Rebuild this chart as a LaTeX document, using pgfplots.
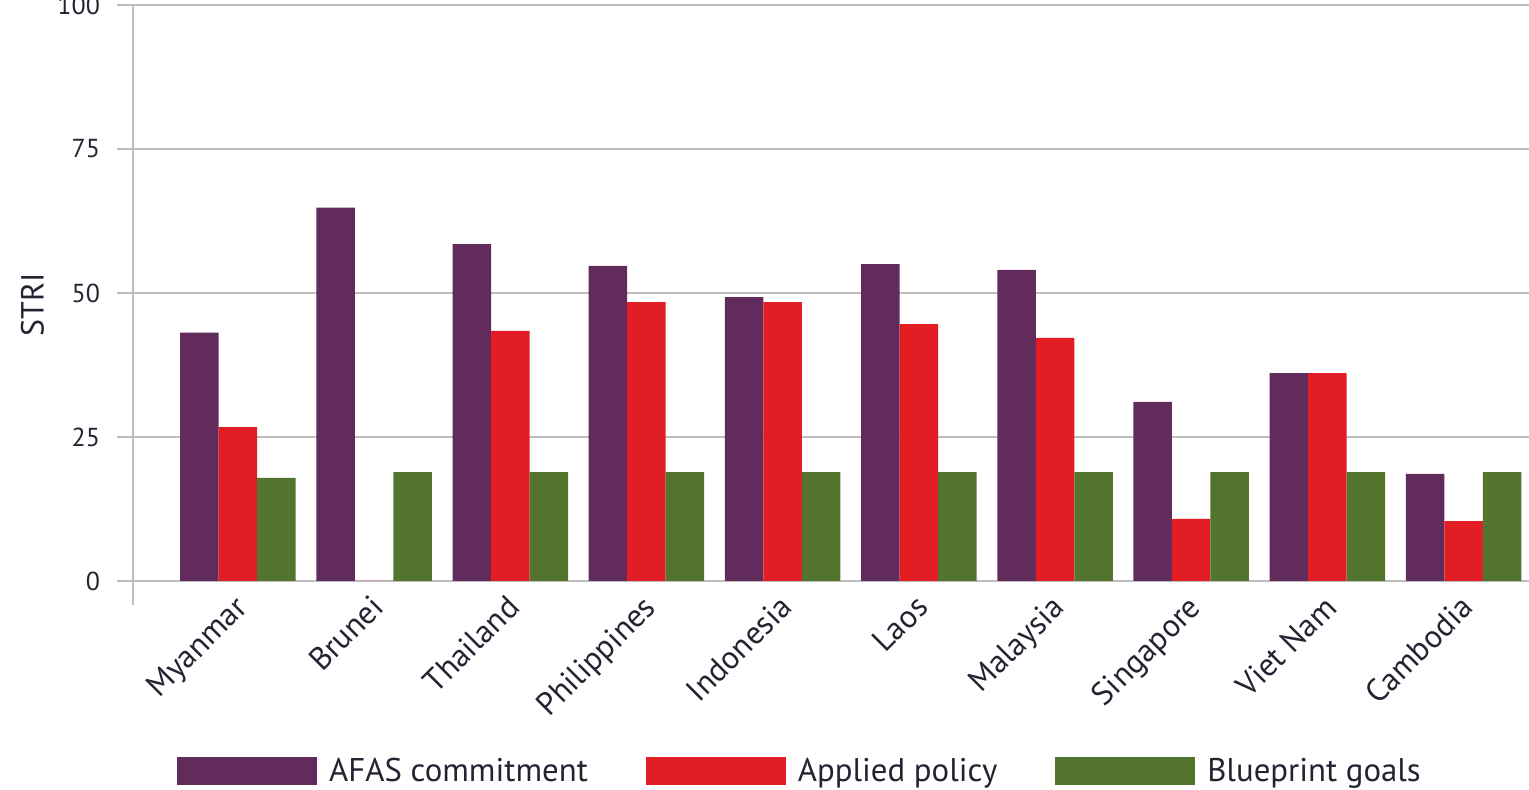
\documentclass[border=0pt]{standalone}
\usepackage{pgfplots}
\pgfplotsset{compat=1.18}
\usepackage{fontspec}
\setmainfont{PT Sans}
\definecolor{afas}{RGB}{97,44,92}
\definecolor{applied}{RGB}{226,30,36}
\definecolor{bpgreen}{RGB}{83,116,45}
\definecolor{gridgray}{RGB}{190,190,190}
\definecolor{txt}{RGB}{35,35,50}
\begin{document}
\begin{tikzpicture}
\begin{axis}[
  name=ax,
  scale only axis,
  width=698pt, height=300pt,
  xmin=-0.77, xmax=9.48,
  ymin=-4.17, ymax=100,
  ybar=0pt, bar width=19.25pt,
  xtick={0,...,9},
  xticklabels={Myanmar,Brunei,Thailand,Philippines,Indonesia,Laos,Malaysia,Singapore,Viet Nam,Cambodia},
  ytick={0,25,50,75,100},
  ymajorgrids,
  grid style={gridgray, line width=1pt},
  axis lines*=left,
  x axis line style={draw=none},
  y axis line style={gridgray, line width=1pt, -},
  tick align=outside,
  major tick length=8pt,
  xtick style={draw=none},
  ytick style={gridgray, line width=1pt},
  /pgf/number format/assume math mode=true,
  yticklabel style={font=\fontsize{13}{14}\selectfont, text=txt, xshift=-5pt},
  xticklabel style={font=\fontsize{16}{18}\selectfont, text=txt, xshift=-2.5pt, yshift=14pt, rotate=45, anchor=north east, inner sep=0pt},
  ylabel={STRI},
  ylabel style={font=\fontsize{16}{18}\selectfont, text=txt, at={(axis description cs:-0.072,0.5)}, anchor=center},
  legend style={at={(0.4785,-0.277)}, anchor=center, draw=none, fill=none,
    legend columns=3, font=\fontsize{16.4}{18}\selectfont, text=txt,
    /tikz/every even column/.append style={column sep=27pt},
    /tikz/every odd column/.append style={column sep=4pt}},
  legend image code/.code={\fill[#1] (0pt,-7pt) rectangle (70pt,7pt);},
]
\addplot[fill=afas, draw=none] coordinates {(0,43.1) (1,64.8) (2,58.5) (3,54.7) (4,49.3) (5,55.0) (6,54.0) (7,31.1) (8,36.1) (9,18.6)};
\addplot[fill=applied, draw=none] coordinates {(0,26.7) (1,0) (2,43.4) (3,48.4) (4,48.4) (5,44.6) (6,42.2) (7,10.8) (8,36.1) (9,10.4)};
\addplot[fill=bpgreen, draw=none] coordinates {(0,17.9) (1,18.9) (2,18.9) (3,18.9) (4,18.9) (5,18.9) (6,18.9) (7,18.9) (8,18.9) (9,18.9)};
\legend{AFAS commitment, Applied policy, Blueprint goals}
\end{axis}
\pgfresetboundingbox
\path[use as bounding box] ([xshift=-66.5pt, yshift=-92.5pt]ax.south west) rectangle ([yshift=2.5pt]ax.north east);
\end{tikzpicture}
\end{document}
